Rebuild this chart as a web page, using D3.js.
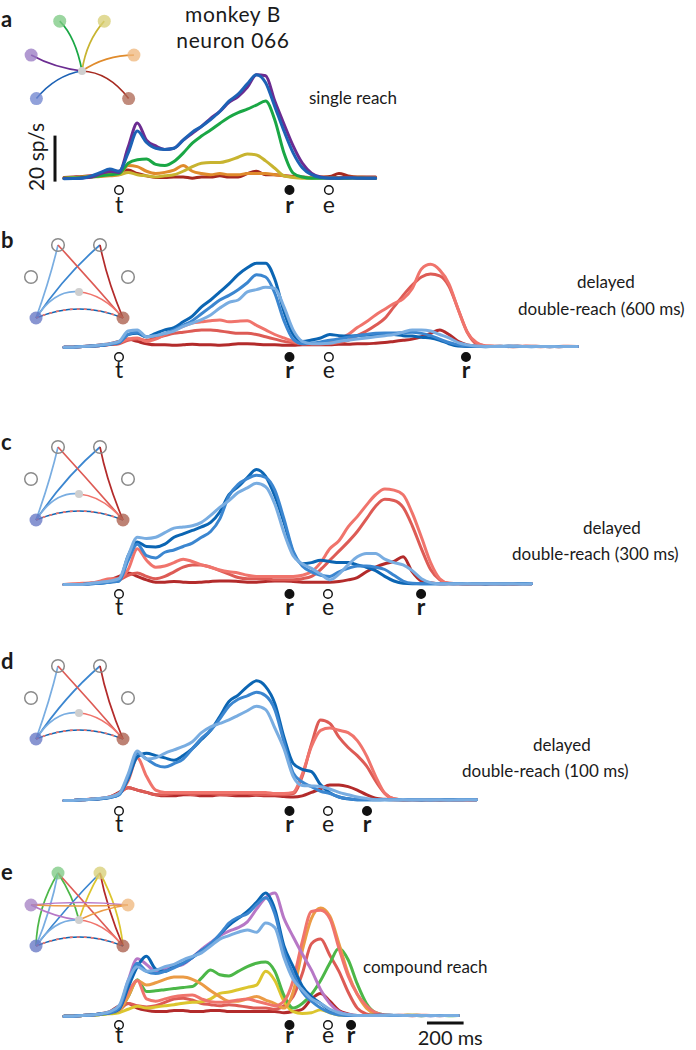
<!DOCTYPE html>
<html><head><meta charset="utf-8">
<script src="https://cdn.jsdelivr.net/npm/d3@7"></script>
<style>
body{margin:0;background:#fff}
svg{display:block}
text{font-family:Lato,"Open Sans",sans-serif;fill:#1a1a1a}
</style></head>
<body><svg id="fig" width="696" height="1050"></svg>
<script>
// ---------------- DATA (firing rate, sp/s, sampled every 50 ms from -300 ms re target onset) ----------------
const aTime = d3.range(-300, 1401, 50);
const aRed    = [1.8,2,2.2,2.5,3,3.5,4.5,5,3.5,2.5, 1.8,1.8,2,2,1.5,2,2,2.5,2,2, 3.5,4.5,3,3,2.5,2.2,2,1.8,2,2.2, 3.5,2.5,2,2,2];
const aOrange = [1.5,1.6,1.8,2,2.2,2.5,3,7,6.5,4.5, 3.5,4,5,7,4.5,3.5,3,3.5,3,3, 3.5,3.5,3.5,3,2.5,2,1.8,1.8,1.9,1.8, 1.7,1.8,1.9,1.8,1.8];
const aYellow = [1.5,1.8,2,2.2,2.5,3,3,4,3,2.5, 2,2.5,3,4.5,6.5,8,8.3,8.3,9.2,10.6, 12,11.6,9,5.8,2.5,1.8,1.5,1.5,1.6,1.5, 1.5,1.6,1.5,1.5,1.5];
const aGreen  = [1.5,1.6,1.8,2,2.5,3,3.5,8,9.5,9.8, 7.5,7,8.7,12.4,16.7,19.8,22.4,25.3,28,30, 31.5,33.3,35,26.8,12.4,3.7,2,1.5,1.5,1.6, 1.5,1.5,1.6,1.5,1.5];
const aPurple = [1.3,1.4,1.6,2,3.5,4.5,4,15,25.5,18, 15.5,14,14.5,18,21,24,27.5,30.5,34.5,37, 41,46.5,46,35,25,15.5,8,3.7,2,1.6, 1.6,1.7,1.6,1.6,1.6];
const aBlue   = [1.2,1.3,1.5,2.5,4,5.5,4.5,12.5,22,17, 14.5,14,14.5,18,21.5,24,27,30.5,35,38, 42.5,46.5,43,32.6,22,12.5,6,3,1.8,1.5, 1.5,1.6,1.5,1.5,1.5];

const bTime = d3.range(-300, 2501, 50);
const bDarkRed = [1.5,1.5,1.8,2,2.5,3,4,5,4,3, 2.5,2.5,2.3,2.5,2.8,2.5,2.5,2.3,2.5,3, 3,2.8,2.5,2.5,2.3,2.3,2.5,2.5,2.5,2.5, 2.8,2.8,3,3,3.2,3.5,4,4.5,5,6, 7.5,9,7,4,2.5,2,1.8,1.9,1.8,1.7, 1.8,1.9,1.8,1.8,1.7,1.8,1.8];
const bMidRed  = [1.5,1.5,1.8,2,2.2,2.6,3,4.5,5,4.5, 5.5,6.5,7.5,8,8.5,9,9,8.5,8,7.5, 7.5,7,6,5,4,3.5,3,3,3,3, 3.5,4.5,6.5,8.5,11,14,19,24,28.5,32, 33.3,32.5,28,18,8,3,2,1.8,1.8,1.9, 1.8,1.8,1.7,1.8,1.8,1.9,1.8];
const bLightRed= [1.5,1.5,1.8,2,2.2,2.8,3.5,5,5.5,4, 5,7,9,10.5,12,12.5,13,13.3,12.5,12.8, 13,11,9,7,5.5,4,3,3,3,3.5, 5,7,10,12.5,15.5,18,20.5,22.5,27,35.5, 37.5,35,29,18,8,3.5,2,1.8,1.8,1.8, 1.9,1.8,1.8,1.7,1.8,1.8,1.8];
const bDarkBlue= [1.5,1.5,1.8,2,2.2,2.8,3.5,7,7.5,6, 7.5,9,10,12.5,15,19,22,25.5,29,33, 36,38,38,31,17,7,4,4.6,5.5,7, 6.5,6.3,6.5,6.8,7,7.2,7,6.5,6.3,5.8, 5.5,4.5,3,2,1.8,1.8,1.7,1.8,1.8,1.9, 1.8,1.8,1.8,1.7,1.8,1.8,1.8];
const bMidBlue = [1.5,1.5,1.8,2,2.2,2.8,3.5,7,8,6, 6.5,7.5,9,11,13,16,19,22,24,26.5, 29.5,33,32,25,13,5,3,3.3,3.8,4.5, 5,5.8,6.5,7,7.5,7.6,7.6,7.8,8,7.5, 6.5,5,3.5,2.5,2,1.8,1.8,1.8,1.9,1.8, 1.8,1.7,1.8,1.8,1.8,1.8,1.8];
const bLightBlue=[1.5,1.5,1.8,2,2.5,3,4,8.5,9,6, 6.5,7.5,8.5,10.5,12,13.5,15.5,18.5,21,22, 25.5,26.5,27.5,27,19,9,4,3,3,3.2, 4,4.5,5,5.5,6,6.5,7,8,9,9, 8.5,7,5.5,3.5,2.5,2,1.8,1.8,1.8,1.9, 1.8,1.8,1.8,1.8,1.7,1.8,1.8];

const cTime = d3.range(-300, 2251, 50);
const cDarkRed = [1.5,1.5,1.5,2,2.5,3.5,5,6.5,5,3.5, 2.5,2.5,2.8,2.5,2.3,2.5,2.8,3,3,2.8, 2.5,2.5,2.8,3,3,2.8,2.5,2.5,2.5,2.5, 2.8,3.5,4.5,7,9,10.5,11.5,13.5,7,3, 2.2,1.8,1.8,1.9,1.8,1.8,1.7,1.8,1.8,1.8, 1.9,1.8];
const cMidRed  = [1.5,1.5,1.8,2,2.2,3,3.5,5.5,6.5,5, 4,5,7,9,10,10,9,7.5,6,4.5, 4,4,4,3.5,3.5,3.5,4,5,8,12, 16,20,24.5,30,35.5,38.5,38,35,27,17, 8,3.5,2,1.8,1.8,1.8,1.9,1.8,1.8,1.7, 1.8,1.8];
const cLightRed= [1.5,1.8,2,2.2,3,4,4,8,17,12, 9,9.5,11,12.5,11.5,10,9,7.8,7,6.5, 5.5,5,5,5,5,5,5.5,7,11,17, 20.5,26.5,31,36,40.5,43,42.5,40.5,32.5,22, 11,4,2,1.8,1.8,1.8,1.8,1.9,1.8,1.8, 1.8,1.8];
const cDarkBlue= [1.5,1.5,1.5,1.8,2,2.5,3,14,20,18, 17.8,19,22,23.5,25,26.5,28.5,33,40.5,44, 48,51.5,48.5,40,28.5,15.5,10.5,11,12,11.5, 11,11,10,9,7.5,5,3,2,1.8,1.8, 1.8,1.8,1.9,1.8,1.8,1.8,1.7,1.8,1.8,1.8, 1.8,1.8];
const cMidBlue = [1.5,1.5,1.5,1.8,2,2.5,3,12,19,14, 13,15.5,16.5,18,19.5,22,24.5,30,40,45, 47.5,49,48,42.5,30,16,9.5,7,5.5,5, 7,8.5,9.5,9.5,9,8,5.5,3,2,1.8, 1.8,1.8,1.8,1.9,1.8,1.8,1.8,1.8,1.7,1.8, 1.8,1.8];
const cLightBlue=[1.5,1.5,1.5,2,2.5,3,4,14,22,21.5, 22,24,26,26.5,27,28.5,31.5,35,38,41.5, 43.5,45.5,44,36.5,24,14,10.5,8.5,6,3.5, 6,10,13.5,15,15,12.5,11,10,7.5,4, 2.3,1.8,1.8,1.8,1.9,1.8,1.8,1.8,1.8,1.8, 1.7,1.8];

const dTime = d3.range(-300, 1951, 50);
const dDarkRed = [1.5,1.5,1.8,2,2.3,3,5,7,6,5, 4,3.5,3.5,4,4,3.5,3.5,4,3.8,3.5, 3.5,3.8,3.5,3.5,3.2,3,3.5,5,6.5,8.2, 8.2,7.5,6,4,2.5,2,1.8,1.8,1.9,1.8, 1.8,1.7,1.8,1.8,1.8,1.8];
const dMidRed  = [1.5,1.5,1.8,2,2.3,3,4.5,7,6,5, 4,4,4.5,4.5,4,4.5,4.5,4,4,4.5, 4.5,4,4,4,4,4.5,12,26,36.5,35, 29,24.5,21,16.5,10,4.6,2.2,1.8,1.8,1.8, 1.9,1.8,1.8,1.8,1.7,1.8];
const dLightRed= [1.5,1.5,1.8,2,2.3,3,4.5,10,20,12, 6,5,5,5,5,5,5,5,5,5, 5,5,5,4.5,4.5,5,13,25,32,33, 32,31,27.5,21,12,4.6,2.2,1.8,1.8,1.8, 1.8,1.9,1.8,1.8,1.8,1.8];
const dDarkBlue= [1.5,1.5,1.8,2,2.2,2.8,4,11,20.5,22, 21,20,19,21,24,28,32,38,44.5,47.3, 51,53.5,51,43.7,29,17.6,15,14,8.3,4.9, 3,2.2,1.8,1.8,1.8,1.9,1.8,1.8,1.8,1.7, 1.8,1.8,1.8,1.8,1.9,1.8];
const dMidBlue = [1.5,1.5,1.8,2,2.2,2.8,4,12,22,19.5, 17,16,17.5,19.5,24,28.5,32,37,42.5,45.5, 47,48.5,47,41,27,13.5,9.5,7.5,5.5,4.5, 3,2.2,1.8,1.8,1.8,1.8,1.9,1.8,1.8,1.8, 1.7,1.8,1.8,1.8,1.8,1.8];
const dLightBlue=[1.5,1.5,1.8,2,2.5,3,4.5,13,23,19.5, 20,22,23.5,25,27,31,33.5,35,36.5,38.5, 40.5,42.5,41,33,24,12,8,7.8,7.5,6.5, 5,4,3,2.4,1.8,1.8,1.8,1.9,1.8,1.8, 1.8,1.8,1.7,1.8,1.8,1.8];

const eTime = d3.range(-300, 1851, 50);
const eDarkRed = [1.5,1.5,1.8,2,2.5,3.5,6,7,5,4, 3.5,3.5,4,4,3.5,3.5,4,4,3.5,3.5, 3.5,3.5,3.5,3.5,3,3.5,4.5,9,11.4,8, 4,2.5,1.8,1.8,1.9,1.8,1.8,1.8,1.7,1.8, 1.8,1.8,1.8,1.8];
const eMidRed  = [1.5,1.5,1.8,2,2.2,2.8,4,7,6,5.5, 6,7.5,9,9.3,8.5,7,6.5,6,6.5,6, 5.5,5,5,4.5,6,10,20,33,35,28, 21,12,5,2.5,1.8,1.8,1.8,1.9,1.8,1.8, 1.8,1.7,1.8,1.8];
const eYellow  = [1.5,1.5,1.8,2,2.2,2.5,3,4.5,5.8,5, 5.5,6,6.5,7.1,7.5,7.8,9,11.4,12,13, 14,15,21,17,8,3.5,2.7,3,4.3,3, 2,1.8,1.8,1.8,1.9,1.8,1.8,1.8,1.8,1.7, 1.8,1.8,1.8,1.8];
const eGreen   = [1.5,1.5,1.8,2,2.2,2.8,4,10,17.3,12.2, 12.5,13,13.5,14,14.4,18,21.6,19.5,19,21, 23,24.5,25,21,10.5,5,7,11,17,24.5, 31,26,15.5,7,3,2,1.8,1.8,1.9,1.8, 1.8,1.8,1.7,1.8];
const eOrange  = [1.5,1.5,1.8,2,2.5,3,4,10,17,15, 16,17.5,18.5,18.5,17.5,15.5,12.5,10,8,8, 9,10,8.5,7,5,12,30,44,48.5,45, 33,20,11,5,2.5,1.8,1.8,1.8,1.9,1.8, 1.8,1.8,1.8,1.8];
const eLightRed= [1.5,1.5,1.8,2,2.5,3,4.5,12,17,9, 8,9,10,10.5,10.7,9,7.8,7.5,7.8,8.5, 9,8,7,6,8,17,34,47,47.5,44, 31,19,11,6,3,2,1.8,1.8,1.8,1.9, 1.8,1.8,1.8,1.8];
const ePurple  = [1.5,1.5,1.8,2,2.5,3,5,17,26.5,24, 21,22,23,24,27,30.5,33.5,36.5,38.5,40, 42.5,48,53,55,44,36,28.5,21.5,13,7, 3.5,2.2,1.8,1.8,1.8,1.9,1.8,1.8,1.8,1.8, 1.7,1.8,1.8,1.8];
const eDarkBlue= [1.5,1.5,1.8,2,2.5,3,4.5,14,23,27.5, 22,21,23,24.5,27,30,32.5,37,41,44, 47,51,55,48,32,23,14.5,10,7,4, 2.5,1.8,1.8,1.8,1.9,1.8,1.8,1.8,1.8,1.7, 1.8,1.8,1.8,1.8];
const eMidBlue = [1.5,1.5,1.8,2,2.5,3,5,16,24.5,21, 20,21,22.5,24.5,27,30,33,37,42,44.5, 46,50,53,46,30,20,12,8,5,3, 2,1.8,1.8,1.8,1.8,1.9,1.8,1.8,1.8,1.8, 1.7,1.8,1.8,1.8];
const eLightBlue=[1.5,1.5,1.8,2,2.5,3.5,6,17,23,21, 21.5,23,24,26,27.5,29,32,35,36.5,38, 39,38,42,40,27,17.5,13,9,7,4.5, 3,2.2,1.8,1.8,1.8,1.8,1.9,1.8,1.8,1.8, 1.8,1.7,1.8,1.8];

// event markers (ms re target onset): t = target, r = reach, e = end/second cue
const aEvents = [["t",0],["r",930],["e",1145]];
const bEvents = [["t",0],["r",930],["e",1145],["r",1893]];
const cEvents = [["t",0],["r",930],["e",1140],["r",1648]];
const dEvents = [["t",0],["r",930],["e",1140],["r",1353]];
const eEvents = [["t",0],["r",930],["e",1140],["r",1266]];

const panelLetters = ["a","b","c","d","e"];
const titleLines = ["monkey B","neuron 066"];
const conditionLabels = [["single reach"],["delayed","double-reach (600 ms)"],["delayed","double-reach (300 ms)"],["delayed","double-reach (100 ms)"],["compound reach"]];
const scaleRate = 20, scaleTime = 200;

// ---------------- COLOURS ----------------
const C = {
  aPurple:"#6b2c91", aBlue:"#1d62b5", aGreen:"#1aa745", aYellow:"#c8b430", aOrange:"#e08b2c", aRed:"#a6291f",
  db:"#0b65b3", mb:"#3b86d0", lb:"#79ade1", lr:"#f0746c", mr:"#dd5b55", dr:"#b32b2b",
  ePurple:"#b777c6", eGreen:"#4cb748", eYellow:"#dcc52e", eOrange:"#eb9b45"
};

// ---------------- LAYOUT ----------------
const svg = d3.select("#fig");
const x = d3.scaleLinear().domain([0, 1000]).range([119, 119 + 183.3]);
const pxPerRate = 2.3;

const panels = [
  {time:aTime, zero:181.6, markY:190, letterY:213, events:aEvents,
   series:[[aRed,C.aRed],[aOrange,C.aOrange],[aYellow,C.aYellow],[aGreen,C.aGreen],[aPurple,C.aPurple],[aBlue,C.aBlue]]},
  {time:bTime, zero:350.6, markY:357, letterY:378, events:bEvents,
   series:[[bDarkRed,C.dr],[bMidRed,C.mr],[bLightRed,C.lr],[bDarkBlue,C.db],[bMidBlue,C.mb],[bLightBlue,C.lb]]},
  {time:cTime, zero:587.9, markY:594, letterY:615, events:cEvents,
   series:[[cDarkRed,C.dr],[cMidRed,C.mr],[cLightRed,C.lr],[cDarkBlue,C.db],[cMidBlue,C.mb],[cLightBlue,C.lb]]},
  {time:dTime, zero:803.9, markY:811, letterY:832, events:dEvents,
   series:[[dDarkRed,C.dr],[dMidRed,C.mr],[dLightRed,C.lr],[dDarkBlue,C.db],[dMidBlue,C.mb],[dLightBlue,C.lb]]},
  {time:eTime, zero:1019.6, markY:1025, letterY:1043, events:eEvents,
   series:[[eDarkRed,C.dr],[eMidRed,C.mr],[eYellow,C.eYellow],[eGreen,C.eGreen],[eOrange,C.eOrange],[eLightRed,C.lr],[ePurple,C.ePurple],[eDarkBlue,C.db],[eMidBlue,C.mb],[eLightBlue,C.lb]]}
];

panels.forEach(p => {
  const y = d3.scaleLinear().domain([0, scaleRate]).range([p.zero, p.zero - scaleRate * pxPerRate]);
  p.y = y;
  const g = svg.append("g");
  const line = d3.line().x((d,i) => x(p.time[i])).y(d => y(d)).curve(d3.curveMonotoneX);
  p.series.forEach(([vals, col]) => {
    g.append("path").attr("d", line(vals)).attr("fill","none").attr("stroke",col)
      .attr("stroke-width",3).attr("stroke-linejoin","round").attr("stroke-linecap","round");
  });
  p.events.forEach(([k, ms]) => {
    const filled = k === "r";
    g.append("circle").attr("cx", x(ms)).attr("cy", p.markY).attr("r", 4.3)
      .attr("fill", filled ? "#111" : "#fff").attr("stroke","#111").attr("stroke-width",1.4);
    g.append("text").attr("x", x(ms)).attr("y", p.letterY).attr("text-anchor","middle")
      .attr("font-size",23).attr("font-weight", filled ? 700 : 400).text(k);
  });
});

// panel letters
const insetCenters = [[82,71],[79,292],[79,494],[79,713],[79,920]];
panelLetters.forEach((l,i) => {
  svg.append("text").attr("x",1).attr("y", insetCenters[i][1] - (i===4 ? 40 : 44))
    .attr("font-size",22).attr("font-weight",700).text(l);
});

// title
titleLines.forEach((t,i) => svg.append("text").attr("x",233).attr("y",22 + i*26)
  .attr("text-anchor","middle").attr("font-size",21).attr("letter-spacing",0.6).text(t));

// condition labels
const labelPos = [[[309,104]],[[577,288],[518,315]],[[583,534],[512,560]],[[533,751],[462,777]],[[363,973]]];
conditionLabels.forEach((lines,i) => lines.forEach((t,j) => {
  svg.append("text").attr("x",labelPos[i][j][0]).attr("y",labelPos[i][j][1]).attr("font-size",17).text(t);
}));

// scale bars
const yA = panels[0].y;
svg.append("line").attr("x1",55).attr("x2",55).attr("y1",yA(0)).attr("y2",yA(scaleRate))
  .attr("stroke","#111").attr("stroke-width",3);
svg.append("text").attr("transform","translate(44,157) rotate(-90)").attr("text-anchor","middle")
  .attr("font-size",21).text(scaleRate + " sp/s");
svg.append("line").attr("x1",x(1680)).attr("x2",x(1680+scaleTime)).attr("y1",1023).attr("y2",1023)
  .attr("stroke","#111").attr("stroke-width",3);
svg.append("text").attr("x",x(1680+scaleTime/2)+5).attr("y",1045).attr("text-anchor","middle")
  .attr("font-size",20).text(scaleTime + " ms");

// ---------------- INSETS (reach diagrams) ----------------
const nodePos = {TL:[-21,-47], TR:[21,-47], L:[-48,-15], R:[49,-15], BL:[-43,26], BR:[44,26], C:[0,0]};
function drawInset(cx, cy, s, paths, nodes) {
  const g = svg.append("g").attr("transform",`translate(${cx},${cy}) scale(${s})`);
  paths.forEach(([a,b,col,ctrl,dash]) => {
    const p0 = nodePos[a], p1 = nodePos[b];
    g.append("path").attr("d",`M${p0[0]},${p0[1]} Q${ctrl[0]},${ctrl[1]} ${p1[0]},${p1[1]}`)
      .attr("fill","none").attr("stroke",col).attr("stroke-width",1.7/s)
      .attr("stroke-dasharray", dash || null);
  });
  g.append("circle").attr("cx",0).attr("cy",0).attr("r",4/s).attr("fill","#cfcfcf");
  nodes.forEach(([k,col,outline]) => {
    const p = nodePos[k];
    if (outline) g.append("circle").attr("cx",p[0]).attr("cy",p[1]).attr("r",6.3/s)
      .attr("fill","none").attr("stroke","#8a8a8a").attr("stroke-width",1.5/s);
    else g.append("circle").attr("cx",p[0]).attr("cy",p[1]).attr("r",6.5/s)
      .attr("fill",col).attr("opacity",0.78);
  });
}
drawInset(82,71,1.06,
  [["C","TL",C.aGreen,[-6,-32]],["C","TR",C.aYellow,[4,-28]],["C","L",C.aPurple,[-26,-3]],
   ["C","R",C.aOrange,[22,-15]],["C","BL",C.aBlue,[-25,4]],["C","BR",C.aRed,[25,1]]],
  [["TL","#7fcb85"],["TR","#d9d078"],["L","#9b7cc4"],["R","#efb97f"],["BL","#7287cf"],["BR","#b06a57"]]);

const dblPaths = [["BL","TL",C.lb,[-29,-13]],["BL","TR",C.mb,[-14,-17]],["BL","C",C.lb,[-24,-3]],
  ["BL","BR",C.db,[0,8]],["BL","BR",C.lr,[0,8],"3,4"],
  ["TL","BR",C.mr,[11,-12]],["TR","BR",C.dr,[28,-12]],["C","BR",C.lr,[24,2]]];
const dblNodes = [["TL",null,true],["TR",null,true],["L",null,true],["R",null,true],["BL","#6677c4"],["BR","#aa5f4d"]];
[1,2,3].forEach(i => drawInset(insetCenters[i][0], insetCenters[i][1], 1, dblPaths, dblNodes));

drawInset(79,920,1,
  [["BL","TL",C.eGreen,[-42,-12]],["TL","C",C.eGreen,[-6,-24]],["BL","TL",C.lb,[-28,-10]],["BL","TR",C.mb,[-12,-14]],
   ["TR","C",C.eYellow,[8,-25]],["TR","BR",C.eYellow,[40,-12]],["TL","BR",C.mr,[10,-12]],["TR","BR",C.dr,[28,-12]],
   ["L","R",C.ePurple,[0,-20]],["L","R",C.eOrange,[0,-13]],["L","C",C.ePurple,[-22,-2]],["C","R",C.eOrange,[25,-12]],
   ["C","BR",C.lr,[24,2]],["BL","C",C.lb,[-24,-2]],["BL","BR",C.db,[0,8]],["BL","BR",C.lr,[0,8],"3,4"]],
  [["TL","#7fcb85"],["TR","#d9d078"],["L","#a683c4"],["R","#efb97f"],["BL","#6677c4"],["BR","#aa5f4d"]]);
</script></body></html>
